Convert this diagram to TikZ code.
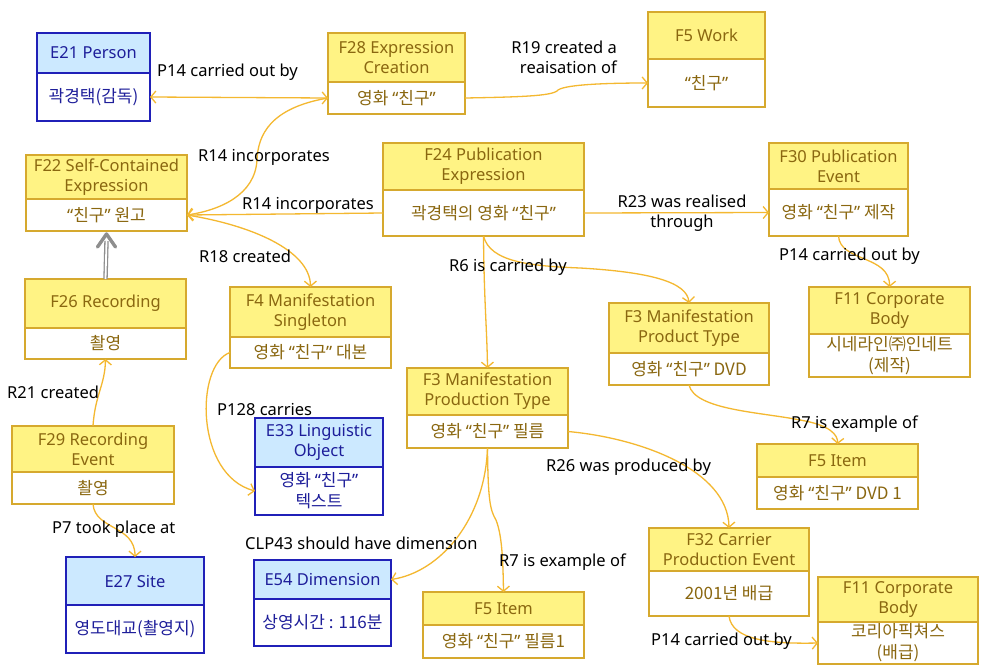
\documentclass[tikz,border=0pt]{standalone}
\usepackage{fontspec}
\setmainfont{Noto Sans}
\newfontfamily\kr{Noto Sans CJK KR}
\newfontfamily\lat{Noto Sans}
\usetikzlibrary{arrows.meta,calc}
\definecolor{yfill}{HTML}{FFF384}
\definecolor{ydraw}{HTML}{D6A92E}
\definecolor{ytext}{HTML}{8A6710}
\definecolor{bfill}{HTML}{CCE9FF}
\definecolor{bdraw}{HTML}{2020B8}
\definecolor{btext}{HTML}{1E1E9A}
\definecolor{connc}{HTML}{F4B830}
\definecolor{grayc}{HTML}{8E8E8E}
\newcommand\kq[1]{{\lat “}#1{\lat ”}}
\newcommand\mybox[9]{%
  \node[#1hd, minimum width={(#5-#3)*1pt}, minimum height={(#6-#4)*1pt}] (#2) at ({(#3+#5)/2},{(#4+#6)/2}) {#8};
  \node[#1bd, minimum width={(#5-#3)*1pt}, minimum height={(#7-#6)*1pt}] (#2b) at ({(#3+#5)/2},{(#6+#7)/2}) {#9};
}
\begin{document}
\begin{tikzpicture}[x=1pt,y=-1pt,
  font=\fontsize{16.5}{20}\selectfont,
  >={Straight Barb[length=5pt,width=12pt]},
  box/.style={rectangle, inner sep=0pt, outer sep=0pt, line width=1.4pt, align=center},
  kfont/.style={font=\kr\fontsize{17}{21}\selectfont},
  yhd/.style={box, draw=ydraw, fill=yfill, text=ytext},
  ybd/.style={box, kfont, draw=ydraw, fill=white, text=ytext},
  bhd/.style={box, draw=bdraw, fill=bfill, text=btext},
  bbd/.style={box, kfont, draw=bdraw, fill=white, text=btext},
  conn/.style={draw=connc, line width=1.3pt, ->},
  lbl/.style={inner sep=0pt, anchor=west, text=black, align=left}]
\useasboundingbox (0,0) rectangle (983,672);
\fill[white] (0,0) rectangle (983,672);

\mybox{b}{e21}{37}{33}{150}{73}{121}{E21 Person}{곽경택(감독)}
\mybox{y}{f28}{328}{33}{465}{82}{114}{F28 Expression\\Creation}{영화 \kq{친구}}
\mybox{y}{f5w}{648}{12}{765}{59}{107}{F5 Work}{\kq{친구}}
\mybox{y}{f22}{26}{155}{187}{199}{231}{F22 Self-Contained\\Expression}{\kq{친구} 원고}
\mybox{y}{f24}{383}{143}{584}{190}{236}{F24 Publication\\Expression}{곽경택의 영화 \kq{친구}}
\mybox{y}{f30}{769}{143}{908}{189}{236}{F30 Publication\\Event}{영화 \kq{친구} 제작}
\mybox{y}{f26}{25}{279}{186}{328}{359}{F26 Recording}{촬영}
\mybox{y}{f4}{230}{287}{391}{337}{368}{F4 Manifestation\\Singleton}{영화 \kq{친구} 대본}
\mybox{y}{f3p}{609}{303}{769}{353}{385}{F3 Manifestation\\Product Type}{영화 \kq{친구} DVD}
\mybox{y}{f11a}{809}{287}{970}{334}{377}{F11 Corporate\\Body}{시네라인㈜인네트\\(제작)}
\mybox{y}{f3a}{407}{368}{568}{415}{448}{F3 Manifestation\\Production Type}{영화 \kq{친구} 필름}
\mybox{y}{f29}{12}{426}{174}{472}{504}{F29 Recording\\Event}{촬영}
\mybox{b}{e33}{255}{418}{383}{467}{515}{E33 Linguistic\\Object}{영화 \kq{친구}\\텍스트}
\mybox{y}{f5i}{757}{444}{918}{477}{509}{F5 Item}{영화 \kq{친구} DVD 1}
\mybox{b}{e27}{66}{557}{204}{605}{653}{E27 Site}{영도대교(촬영지)}
\mybox{b}{e54}{254}{560}{391}{599}{646}{E54 Dimension}{상영시간 : 116분}
\mybox{y}{f5f}{423}{592}{584}{625}{658}{F5 Item}{영화 \kq{친구} 필름1}
\mybox{y}{f32}{649}{528}{809}{571}{616}{F32 Carrier\\Production Event}{2001년 배급}
\mybox{y}{f11b}{818}{577}{978}{622}{664}{F11 Corporate\\Body}{코리아픽쳐스\\(배급)}

% connectors
\draw[conn, <->] (e21b.east) -- (f28b.west);
\draw[conn] (f28b.east) .. controls (520,97) and (550,96) .. (557,91) .. controls (561,85) and (600,83) .. (f5wb.west);
\draw[conn] (f28b.west) .. controls (270,108) and (258,135) .. (257,160) .. controls (255,195) and (220,210) .. (f22b.east);
\draw[conn] (f24b.west) -- (f22b.east);
\draw[conn] (f22b.east) .. controls (250,225) and (310,250) .. (f4.north);
\draw[conn] (f24b.east) -- (f30b.west);
\draw[conn] (f30b.south) .. controls (840,262) and (890,255) .. (f11a.north);
\draw[conn] (f24b.south) .. controls (484,300) and (487,330) .. (f3a.north);
\draw[conn] (f24b.south) .. controls (490,262) and (530,266) .. (580,268) .. controls (650,272) and (687,282) .. (f3p.north);
\draw[conn] (f29.north) .. controls (95,395) and (105,385) .. (f26b.south);
\draw[conn] (f29b.south) .. controls (95,530) and (135,525) .. (e27.north);
\draw[conn] (f4b.west) .. controls (195,365) and (195,475) .. (e33b.west);
\draw[conn] (f3pb.south) .. controls (695,410) and (760,412) .. (800,420) .. controls (830,425) and (838,435) .. (f5i.north);
\draw[conn] (f3ab.east) .. controls (640,438) and (728,470) .. (f32.north);
\draw[conn] (f3ab.south) .. controls (485,520) and (440,572) .. (e54.east);
\draw[conn] (f3ab.south) .. controls (488,500) and (490,510) .. (496,520) .. controls (502,535) and (503,560) .. (f5f.north);
\draw[conn] (f32b.south) .. controls (732,640) and (770,644) .. (f11bb.west);

% gray double arrow F26 -> F22
\draw[draw=grayc, double=white, double distance=1.8pt, line width=1.3pt] (f26.north) -- ($(f22b.south)+(0,10)$);
\draw[grayc, line width=3.4pt, line cap=round, line join=round] ($(f22b.south)+(-9,16)$) -- ($(f22b.south)+(0,3)$) -- ($(f22b.south)+(9,16)$);

% labels
\node[lbl] (l1) at (157,72) {P14 carried out by};
\node[lbl, align=right, anchor=east] (l2) at (617,57) {R19 created a\\reaisation of};
\node[lbl] (l3) at (198,157) {R14 incorporates};
\node[lbl] (l4) at (242,205) {R14 incorporates};
\node[lbl] (l5) at (199,256) {R18 created};
\node[lbl, align=center, anchor=center] (l6) at (682,213) {R23 was realised\\through};
\node[lbl] (l7) at (779,256) {P14 carried out by};
\node[lbl] (l8) at (449,267) {R6 is carried by};
\node[lbl] (l9) at (7,392) {R21 created};
\node[lbl] (l10) at (217,409) {P128 carries};
\node[lbl] (l11) at (791,424) {R7 is example of};
\node[lbl] (l12) at (546,467) {R26 was produced by};
\node[lbl] (l13) at (52,529) {P7 took place at};
\node[lbl] (l14) at (245,543) {CLP43 should have dimension};
\node[lbl] (l15) at (499,562) {R7 is example of};
\node[lbl] (l16) at (651,641) {P14 carried out by};
\end{tikzpicture}
\end{document}
